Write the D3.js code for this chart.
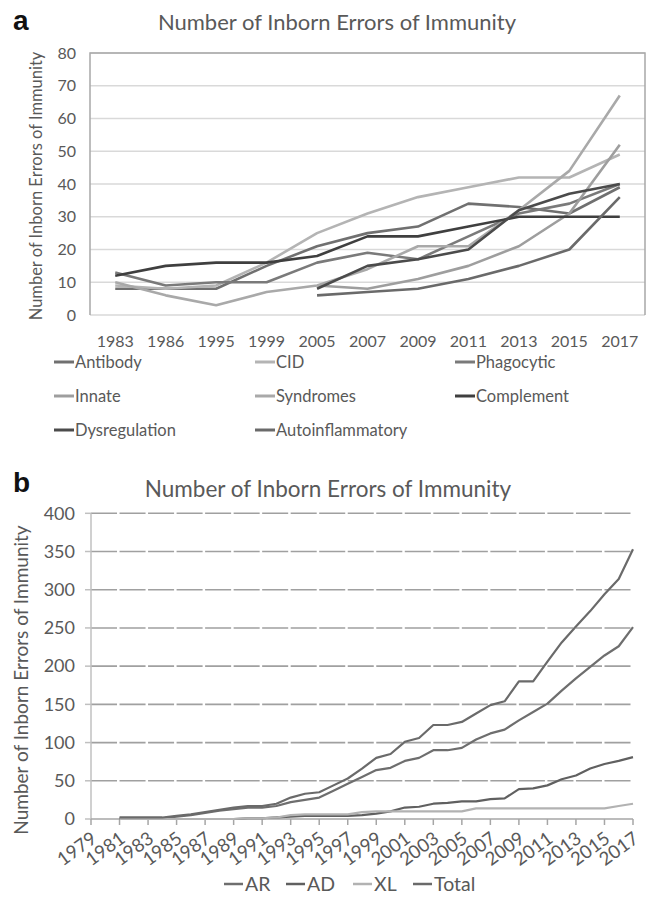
<!DOCTYPE html>
<html>
<head>
<meta charset="utf-8">
<script src="https://cdn.jsdelivr.net/npm/d3@7"></script>
<style>
  body { margin: 0; background: #fff; }
  svg { display: block; font-family: Lato, "Open Sans", sans-serif; }
</style>
</head>
<body>
<svg id="chart" width="648" height="904"></svg>
<script>
// ==========================================
// DATA
// ==========================================
const yearsA = ['1983', '1986', '1995', '1999', '2005', '2007', '2009', '2011', '2013', '2015', '2017'];
const ticksA = [0, 10, 20, 30, 40, 50, 60, 70, 80];

const antibody = [8, 8, 8, 15, 21, 25, 27, 34, 33, 31, 39];
const cid = [9, 8, 9, 16, 25, 31, 36, 39, 42, 42, 49];
const phagocytic = [13, 9, 10, 10, 16, 19, 17, 24, 31, 34, 40];
const innate = [null, null, null, null, 9, 8, 11, 15, 21, 31, 52];
const syndromes = [10, 6, 3, 7, 9, 14, 21, 21, 32, 44, 67];
const complement = [12, 15, 16, 16, 18, 24, 24, 27, 30, 30, 30];
const dysregulation = [null, null, null, null, 8, 15, 17, 20, 32, 37, 40];
const autoinflammatory = [null, null, null, null, 6, 7, 8, 11, 15, 20, 36];

const seriesA = [
  { name: 'Antibody', values: antibody, color: '#707070' },
  { name: 'CID', values: cid, color: '#b4b4b4' },
  { name: 'Phagocytic', values: phagocytic, color: '#7a7a7a' },
  { name: 'Innate', values: innate, color: '#9e9e9e' },
  { name: 'Syndromes', values: syndromes, color: '#a9a9a9' },
  { name: 'Complement', values: complement, color: '#3f3f3f' },
  { name: 'Dysregulation', values: dysregulation, color: '#4b4b4b' },
  { name: 'Autoinflammatory', values: autoinflammatory, color: '#6a6a6a' }
];

const axisYearsB = d3.range(1979, 2018).map(String);
const tickYearsB = d3.range(1979, 2018, 2).map(String);
const dataYearsB = d3.range(1981, 2018).map(String);
const ticksB = [0, 50, 100, 150, 200, 250, 300, 350, 400];

const ar = [1, 1, 1, 1, 3, 5, 8, 11, 13, 15, 15, 17, 22, 25, 28, 37, 46, 55, 64, 67, 76, 80, 90, 90, 93,
  104, 112, 117, 129, 140, 151, 168, 184, 199, 214, 226, 251];
const ad = [0, 0, 0, 0, 0, 0, 0, 0, 0, 1, 1, 2, 3, 4, 4, 4, 4, 5, 7, 10, 15, 16, 20, 21, 23,
  23, 26, 27, 39, 40, 44, 52, 57, 66, 72, 76, 81];
const xl = [0, 0, 0, 0, 0, 0, 0, 0, 0, 1, 1, 2, 5, 6, 6, 6, 6, 9, 10, 10, 10, 10, 10, 10, 10,
  14, 14, 14, 14, 14, 14, 14, 14, 14, 14, 17, 20];
const total = [2, 2, 2, 2, 4, 6, 9, 12, 15, 17, 17, 20, 28, 33, 35, 44, 53, 66, 80, 85, 101, 106, 123, 123, 127,
  138, 149, 154, 180, 180, 206, 231, 252, 272, 294, 314, 353];

const seriesB = [
  { name: 'AR', values: ar, color: '#6e6e6e' },
  { name: 'AD', values: ad, color: '#606060' },
  { name: 'XL', values: xl, color: '#b2b2b2' },
  { name: 'Total', values: total, color: '#6a6a6a' }
];

const TITLE = 'Number of Inborn Errors of Immunity';
const svg = d3.select('#chart');

// ==========================================
// PANEL A
// ==========================================
function drawPanelA() {
  const g = svg.append('g');
  const x = d3.scalePoint().domain(yearsA).range([90, 645]).padding(0.5);
  const y = d3.scaleLinear().domain([0, 80]).range([315, 53]);

  // gridlines
  g.append('g').selectAll('line').data(ticksA).join('line')
    .attr('x1', 90).attr('x2', 645)
    .attr('y1', d => y(d)).attr('y2', d => y(d))
    .attr('stroke', '#d9d9d9').attr('stroke-width', 1.5);

  // plot border (left, top, right)
  g.append('path')
    .attr('d', `M90,${y(0)}V${y(80)}H645V${y(0)}`)
    .attr('fill', 'none').attr('stroke', '#a8a8a8').attr('stroke-width', 1.5);

  // y tick labels
  g.append('g').selectAll('text').data(ticksA).join('text')
    .attr('x', 76).attr('y', d => y(d)).attr('dy', '0.35em')
    .attr('text-anchor', 'end').attr('font-size', 16).attr('fill', '#595959')
    .text(d => d);

  // x tick labels
  g.append('g').selectAll('text').data(yearsA).join('text')
    .attr('x', d => x(d)).attr('y', 347)
    .attr('text-anchor', 'middle').attr('font-size', 16).attr('fill', '#595959')
    .text(d => d);

  const line = d3.line()
    .defined(d => d.v != null)
    .x(d => x(d.year)).y(d => y(d.v));

  g.append('g').selectAll('path').data(seriesA).join('path')
    .attr('d', s => line(s.values.map((v, i) => ({ year: yearsA[i], v }))))
    .attr('fill', 'none').attr('stroke', s => s.color)
    .attr('stroke-width', 2.6).attr('stroke-linejoin', 'round');

  // titles
  g.append('text').attr('x', 337).attr('y', 30)
    .attr('text-anchor', 'middle').attr('font-size', 22).attr('fill', '#595959')
    .text(TITLE);
  g.append('text')
    .attr('transform', 'translate(42,186) rotate(-90)')
    .attr('text-anchor', 'middle').attr('font-size', 16.5).attr('fill', '#595959')
    .text(TITLE);
  g.append('text').attr('x', 13).attr('y', 30)
    .attr('font-family', '"Liberation Sans", Arial, sans-serif')
    .attr('font-weight', 'bold').attr('font-size', 28).attr('fill', '#111')
    .text('a');

  // legend: 3 columns
  const colX = [54, 255, 455];
  const rowY = [368, 402, 436];
  const items = g.append('g').selectAll('g').data(seriesA).join('g')
    .attr('transform', (d, i) => `translate(${colX[i % 3]},${rowY[Math.floor(i / 3)]})`);
  items.append('line')
    .attr('x1', 0).attr('x2', 20).attr('y1', -6).attr('y2', -6)
    .attr('stroke', d => d.color).attr('stroke-width', 3);
  items.append('text')
    .attr('x', 21).attr('font-size', 16.5).attr('fill', '#595959')
    .text(d => d.name);
}

// ==========================================
// PANEL B
// ==========================================
function drawPanelB() {
  const g = svg.append('g');
  const x = d3.scalePoint().domain(axisYearsB).range([91, 633]);
  const y = d3.scaleLinear().domain([0, 400]).range([819, 513.3]);
  const step2 = x('1981') - x('1979');

  // dashed gridlines, gaps falling on the ticks
  g.append('g').selectAll('line').data(ticksB.slice(1)).join('line')
    .attr('x1', 91).attr('x2', 633)
    .attr('y1', d => y(d)).attr('y2', d => y(d))
    .attr('stroke', '#a0a0a0').attr('stroke-width', 1.6)
    .attr('stroke-dasharray', `${step2 - 2.5} 2.5`);

  // y axis
  g.append('line').attr('x1', 91).attr('x2', 91).attr('y1', y(0)).attr('y2', y(400))
    .attr('stroke', '#c0c0c0').attr('stroke-width', 1.5);
  g.append('g').selectAll('line').data(ticksB).join('line')
    .attr('x1', 85).attr('x2', 91).attr('y1', d => y(d)).attr('y2', d => y(d))
    .attr('stroke', '#c0c0c0').attr('stroke-width', 1.5);
  g.append('g').selectAll('text').data(ticksB).join('text')
    .attr('x', 75).attr('y', d => y(d)).attr('dy', '0.35em')
    .attr('text-anchor', 'end').attr('font-size', 18).attr('fill', '#595959')
    .text(d => d);

  // x axis
  g.append('line').attr('x1', 91).attr('x2', 633).attr('y1', y(0)).attr('y2', y(0))
    .attr('stroke', '#a6a6a6').attr('stroke-width', 1.5);
  g.append('g').selectAll('line').data(tickYearsB).join('line')
    .attr('x1', d => x(d)).attr('x2', d => x(d)).attr('y1', y(0)).attr('y2', y(0) + 6)
    .attr('stroke', '#a6a6a6').attr('stroke-width', 1.5);
  g.append('g').selectAll('text').data(tickYearsB).join('text')
    .attr('transform', d => `translate(${x(d) + 3},${y(0) + 17}) rotate(-36)`)
    .attr('text-anchor', 'end').attr('dy', '0.35em')
    .attr('font-size', 18.5).attr('fill', '#595959')
    .text(d => d);

  const line = d3.line().x(d => x(d.year)).y(d => y(d.v));
  g.append('g').selectAll('path').data(seriesB).join('path')
    .attr('d', s => line(s.values.map((v, i) => ({ year: dataYearsB[i], v }))))
    .attr('fill', 'none').attr('stroke', s => s.color)
    .attr('stroke-width', 2.2).attr('stroke-linejoin', 'round');

  // titles
  g.append('text').attr('x', 328).attr('y', 497)
    .attr('text-anchor', 'middle').attr('font-size', 22.5).attr('fill', '#595959')
    .text(TITLE);
  g.append('text')
    .attr('transform', 'translate(28,680) rotate(-90)')
    .attr('text-anchor', 'middle').attr('font-size', 19).attr('fill', '#595959')
    .text(TITLE);
  g.append('text').attr('x', 13).attr('y', 492)
    .attr('font-family', '"Liberation Sans", Arial, sans-serif')
    .attr('font-weight', 'bold').attr('font-size', 28).attr('fill', '#111')
    .text('b');

  // legend in one row
  const legX = [224, 286, 353, 413];
  const items = g.append('g').selectAll('g').data(seriesB).join('g')
    .attr('transform', (d, i) => `translate(${legX[i]},891)`);
  items.append('line')
    .attr('x1', 0).attr('x2', 19).attr('y1', -7).attr('y2', -7)
    .attr('stroke', d => d.color).attr('stroke-width', 2.5);
  items.append('text')
    .attr('x', 21).attr('font-size', 19.5).attr('fill', '#595959')
    .text(d => d.name);
}

drawPanelA();
drawPanelB();
</script>
</body>
</html>
